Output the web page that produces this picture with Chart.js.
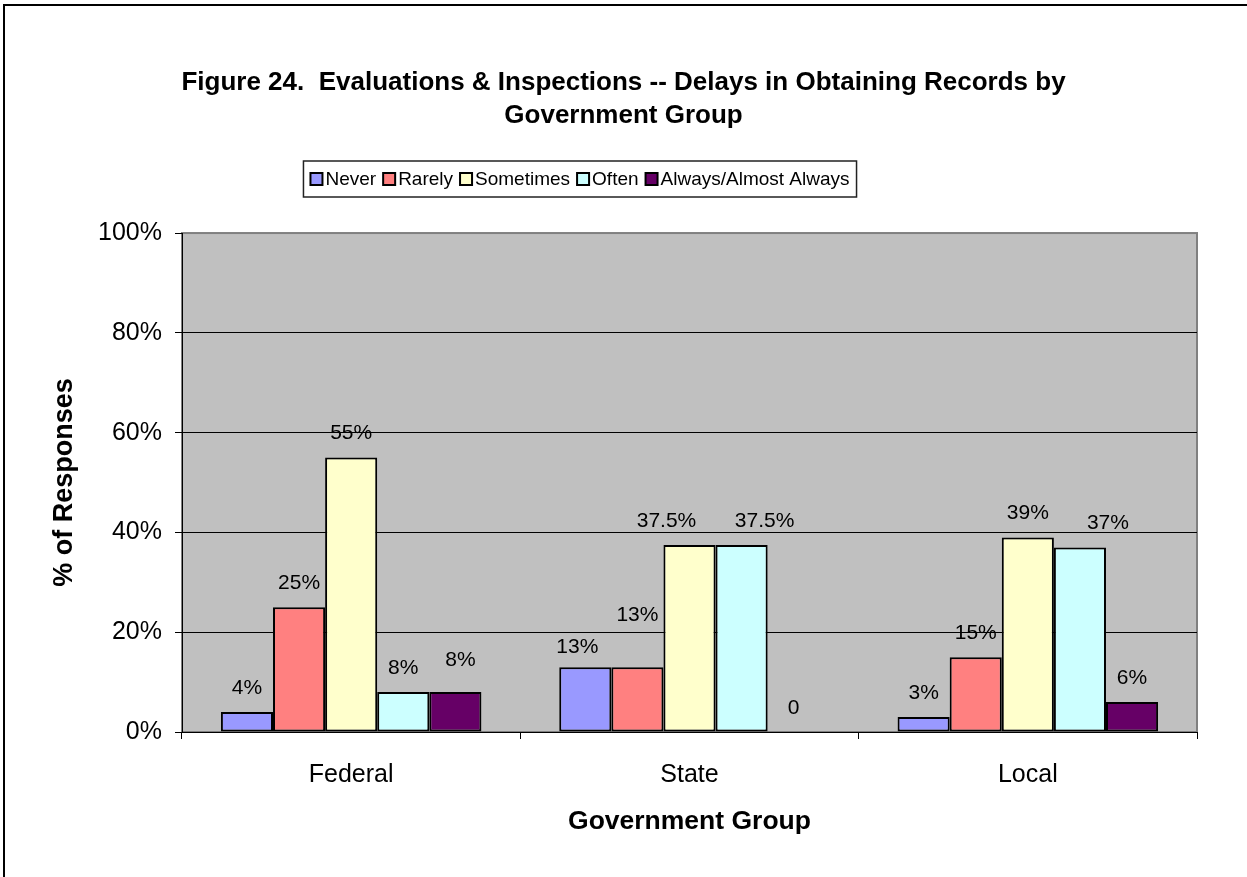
<!DOCTYPE html>
<html>
<head>
<meta charset="utf-8">
<script src="https://cdn.jsdelivr.net/npm/chart.js@4.4.0/dist/chart.umd.min.js"></script>
<style>
  html, body { margin: 0; padding: 0; background: #fff; overflow: hidden; }
  #wrap { position: relative; width: 1247px; height: 877px; }
  #frame { position: absolute; left: 3px; top: 4px; width: 1300px; height: 900px;
           border-left: 2px solid #000; border-top: 2px solid #000; pointer-events: none; }
  canvas { position: absolute; left: 0; top: 0; }
</style>
</head>
<body>
<div id="wrap">
  <canvas id="chart" width="1247" height="877"></canvas>
  <div id="frame"></div>
</div>
<script>
// categories and series values (% of responses)
const groups = ['Federal', 'State', 'Local'];
const seriesNames = ['Never', 'Rarely', 'Sometimes', 'Often', 'Always/Almost Always'];
const never = [4, 13, 3];
const rarely = [25, 13, 15];
const sometimes = [55, 37.5, 39];
const often = [8, 37.5, 37];
const always = [8, 0, 6];
const yTicks = [0, 20, 40, 60, 80, 100];

const colors = ['#9999FF', '#FF8080', '#FFFFCC', '#CCFFFF', '#660066'];
const FONT = "'Liberation Sans', Arial, sans-serif";
Chart.defaults.font.family = FONT;
Chart.defaults.color = '#000';

// label nudges, "dataset,index" -> [dx, dy], the source moved a few by hand
const labelNudge = {
    '0,1': [-8, 4], '1,1': [0, -28], '4,0': [5, -8],
    '2,1': [-23, 0], '3,1': [23, 0], '3,2': [28, 0]
};

// grey plot area with a frame
const plotBg = {
    id: 'plotBg',
    beforeDraw(chart) {
        const a = chart.chartArea, c = chart.ctx;
        c.save();
        c.fillStyle = '#C0C0C0';
        c.fillRect(a.left, a.top, a.right - a.left, a.bottom - a.top);
        c.strokeStyle = '#808080';
        c.lineWidth = 2;
        c.strokeRect(a.left, a.top, a.right - a.left, a.bottom - a.top);
        c.restore();
    }
};

// boxed legend in one row, Excel style (tight swatches)
const boxLegend = {
    id: 'boxLegend',
    afterDraw(chart) {
        const c = chart.ctx;
        const cx = 580, cy = 179, sw = 12, gap = 3, itemGap = 7, margin = 7;
        c.save();
        c.font = '19px ' + FONT;
        c.textBaseline = 'middle';
        const items = chart.data.datasets.map(ds => ({ text: ds.label, color: ds.backgroundColor, w: c.measureText(ds.label).width }));
        let total = items.reduce((s, it) => s + sw + gap + it.w, 0) + itemGap * (items.length - 1);
        let x = cx - total / 2;
        c.strokeStyle = '#222';
        c.lineWidth = 1.5;
        c.strokeRect(x - margin, cy - 18, total + margin * 2, 36);
        items.forEach(it => {
            c.fillStyle = it.color;
            c.fillRect(x, cy - sw / 2, sw, sw);
            c.strokeStyle = '#000';
            c.lineWidth = 2;
            c.strokeRect(x, cy - sw / 2, sw, sw);
            c.fillStyle = '#000';
            c.fillText(it.text, x + sw + gap, cy + 1);
            x += sw + gap + it.w + itemGap;
        });
        c.restore();
    }
};

// value labels above the bars
const barLabels = {
    id: 'barLabels',
    afterDatasetsDraw(chart) {
        const c = chart.ctx;
        c.save();
        c.font = '21px ' + FONT;
        c.fillStyle = '#000';
        c.textAlign = 'center';
        c.textBaseline = 'middle';
        chart.data.datasets.forEach((ds, di) => {
            chart.getDatasetMeta(di).data.forEach((el, i) => {
                const v = ds.data[i];
                const n = labelNudge[di + ',' + i] || [0, 0];
                c.fillText(v === 0 ? '0' : v + '%', el.x + n[0], el.y - 24 + n[1]);
            });
        });
        c.restore();
    }
};

// title is centred on the page, not on the plot
const moveTitle = {
    id: 'moveTitle',
    afterLayout(chart) {
        const t = chart.titleBlock;
        t.left += 25; t.right += 25;
    }
};

const ctx = document.getElementById('chart').getContext('2d');
const chart = new Chart(ctx, {
    type: 'bar',
    data: {
        labels: groups,
        datasets: [never, rarely, sometimes, often, always].map((d, i) => ({
            label: seriesNames[i],
            data: d,
            backgroundColor: colors[i],
            borderColor: '#000',
            borderWidth: 2,
            borderSkipped: false,
            categoryPercentage: 0.77,
            barPercentage: 1.0
        }))
    },
    options: {
        responsive: false,
        animation: false,
        devicePixelRatio: 1,
        layout: { padding: { top: 66, right: 50, bottom: 0, left: 0 } },
        plugins: {
            title: {
                display: true,
                text: ['Figure 24.  Evaluations & Inspections -- Delays in Obtaining Records by', 'Government Group'],
                font: { size: 26, weight: 'bold', lineHeight: 1.27 },
                color: '#000',
                padding: { top: 0, bottom: 101 }
            },
            legend: { display: false },
            tooltip: { enabled: false }
        },
        scales: {
            x: {
                grid: { display: true, drawOnChartArea: false, color: '#000', tickLength: 7, offset: true },
                border: { color: '#000', width: 1 },
                ticks: { font: { size: 25 }, padding: 21 },
                title: { display: true, text: 'Government Group', font: { size: 26.5, weight: 'bold' }, padding: { top: 0, bottom: 39 } },
                afterFit(s) { s.height = 145; }
            },
            y: {
                min: 0,
                max: 100,
                afterBuildTicks(s) { s.ticks = yTicks.map(v => ({ value: v })); },
                ticks: { font: { size: 25 }, padding: 13, callback: v => v + '%' },
                grid: { color: c => c.tick && c.tick.value === 100 ? '#808080' : '#000', tickColor: '#000', tickLength: 7 },
                border: { color: '#000', width: 1 },
                title: { display: true, text: '% of Responses', font: { size: 27, weight: 'bold' }, padding: { top: 48 } },
                afterFit(s) { s.width = 182; }
            }
        }
    },
    plugins: [plotBg, boxLegend, barLabels, moveTitle]
});
</script>
</body>
</html>
